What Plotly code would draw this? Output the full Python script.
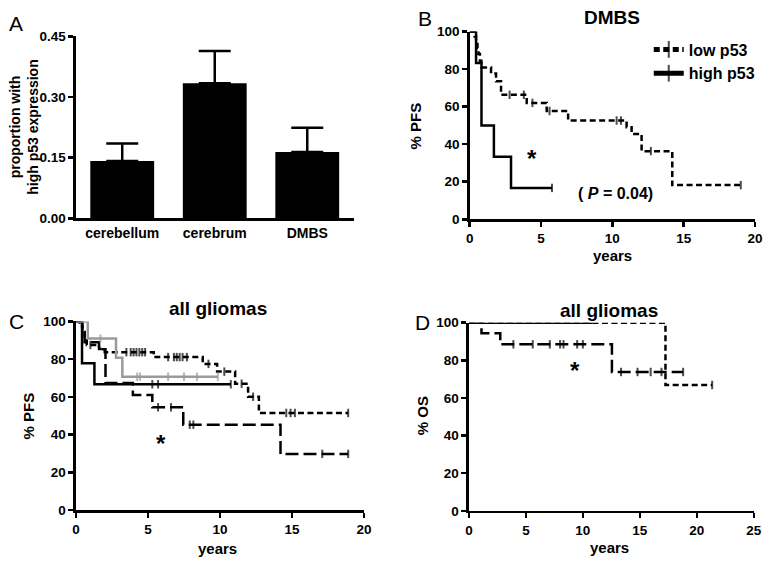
import plotly.graph_objects as go

# page is 774x567; the browser body keeps its default 8px margin,
# so the figure itself is 16px smaller and all positions are offset by 8px.
PAGE_W, PAGE_H = 774, 567
OFF = 8
W, H = PAGE_W - 2 * OFF, PAGE_H - 2 * OFF
FONT = "Liberation Sans, Arial, sans-serif"

# ---------------- Panel A data ----------------
categories = ["cerebellum", "cerebrum", "DMBS"]
proportion_high = [0.142, 0.334, 0.164]
proportion_sem = [0.043, 0.080, 0.060]
a_ticks = [0.0, 0.15, 0.30, 0.45]
a_ticklabels = ["0.00", "0.15", "0.30", "0.45"]

# ---------------- Panel B data (DMBS, PFS) ----------------
b_low_times = [0.35, 0.45, 0.55, 0.62, 0.72, 0.82, 1.5, 1.85, 2.2, 4.0, 5.4, 6.9, 11.0, 11.35, 12.05, 14.2]
b_low_surv = [97.4, 94.8, 91.2, 88.0, 84.5, 80.8, 77.7, 73.5, 66.3, 62.0, 57.7, 52.6, 49.0, 45.4, 36.3, 18.2]
b_low_end = 19.0
b_low_censor = [2.8, 3.8, 4.4, 5.6, 10.3, 10.6, 12.7, 19.0]

b_high_times = [0.45, 0.83, 1.7, 2.9]
b_high_surv = [83.3, 50.0, 33.3, 16.7]
b_high_end = 5.77
b_high_censor = [5.77]

# ---------------- Panel C data (all gliomas, PFS) ----------------
c_short_times = [0.25, 0.45, 0.6, 0.75, 1.6, 2.0, 5.4, 8.8, 9.8, 11.05, 11.95, 12.7]
c_short_surv = [97.5, 95.0, 90.0, 87.5, 85.4, 83.7, 81.1, 77.5, 73.4, 67.0, 60.1, 51.5]
c_short_end = 18.9
c_short_censor = [1.0, 3.5, 3.8, 4.0, 4.2, 4.4, 4.6, 4.8, 6.4, 6.8, 7.0, 7.2, 7.4, 7.7,
                  9.2, 10.3, 11.5, 12.3, 14.6, 14.9, 15.2, 18.9]

c_long_times = [0.45, 0.6, 1.6, 2.05, 3.95, 5.3, 7.45, 14.2]
c_long_surv = [96.3, 88.9, 85.2, 67.4, 61.0, 54.5, 45.3, 29.8]
c_long_end = 18.9
c_long_censor = [5.7, 6.6, 7.9, 8.15, 17.1, 18.9]

c_gray_times = [0.82, 2.78, 3.22]
c_gray_surv = [90.9, 80.8, 70.7]
c_gray_end = 9.85
c_gray_censor = [1.7, 4.25, 4.45, 6.4, 7.5, 8.4, 9.85]

c_solid_times = [0.42, 1.28]
c_solid_surv = [77.8, 66.7]
c_solid_end = 10.75
c_solid_censor = [5.3, 5.7, 10.75]

# ---------------- Panel D data (all gliomas, OS) ----------------
d_short_times = [17.25]
d_short_surv = [66.9]
d_short_end = 21.35
d_short_censor = [21.35]

d_long_times = [1.1, 2.75, 12.55]
d_long_surv = [94.4, 88.5, 73.8]
d_long_end = 18.8
d_long_censor = [3.9, 5.6, 7.1, 8.0, 8.3, 9.5, 10.0, 13.35, 14.8, 15.95, 16.9, 18.8]

d_solid_times = []
d_solid_surv = []
d_solid_end = 10.85
d_solid_censor = []

surv_ticks = [0, 20, 40, 60, 80, 100]


def km_path(times, surv, end, censor, tick=6):
    pts = [(t, 0, s) for t, s in zip(times, surv)] + [(c, 1, None) for c in censor]
    pts.sort(key=lambda p: (p[0], p[1]))
    xs, ys, sz = [0.0], [100.0], [0]
    cur = 100.0
    for t, kind, s in pts:
        if kind == 0:
            cur = s
            xs.append(t); ys.append(cur); sz.append(0)
        else:
            xs.append(t); ys.append(cur); sz.append(tick)
    if xs[-1] < end:
        xs.append(end); ys.append(cur); sz.append(0)
    return xs, ys, sz


def km_trace(times, surv, end, censor, axis, color="black", dash="solid",
             width=2.5, name=None, showlegend=False):
    xs, ys, sz = km_path(times, surv, end, censor)
    return go.Scatter(
        x=xs, y=ys, mode="lines+markers", line=dict(shape="hv", color=color, width=width, dash=dash),
        marker=dict(symbol="line-ns", size=sz, color=color, line=dict(color=color, width=2)),
        xaxis="x" + axis, yaxis="y" + axis, name=name, showlegend=showlegend, hoverinfo="skip",
    )


fig = go.Figure()

# Panel A
fig.add_trace(go.Bar(
    x=categories, y=proportion_high, width=0.69, marker=dict(color="black", line=dict(width=0)),
    error_y=dict(type="data", array=proportion_sem, arrayminus=[0] * len(proportion_sem),
                 symmetric=False, thickness=2.5, width=16, color="black"),
    xaxis="x", yaxis="y", showlegend=False, hoverinfo="skip",
))

SHORT = "6px,3.5px"
LONG = "13px,5px"

# Panel B
fig.add_trace(km_trace(b_low_times, b_low_surv, b_low_end, b_low_censor, "2", dash=SHORT,
                       name="low p53", showlegend=True))
fig.add_trace(km_trace(b_high_times, b_high_surv, b_high_end, b_high_censor, "2",
                       name="high p53", showlegend=True))

# Panel C
fig.add_trace(km_trace(c_long_times, c_long_surv, c_long_end, c_long_censor, "3", dash=LONG))
fig.add_trace(km_trace(c_short_times, c_short_surv, c_short_end, c_short_censor, "3", dash=SHORT))
fig.add_trace(km_trace(c_solid_times, c_solid_surv, c_solid_end, c_solid_censor, "3"))
fig.add_trace(km_trace(c_gray_times, c_gray_surv, c_gray_end, c_gray_censor, "3", color="#9a9a9a"))

# Panel D
fig.add_trace(km_trace(d_short_times, d_short_surv, d_short_end, d_short_censor, "4", dash=SHORT))
fig.add_trace(km_trace(d_long_times, d_long_surv, d_long_end, d_long_censor, "4", dash=LONG))
fig.add_trace(km_trace(d_solid_times, d_solid_surv, d_solid_end, d_solid_censor, "4"))


def px_x(x):
    return (x - OFF) / W


def px_y(y):
    return 1 - (y - OFF) / H


tickfont = dict(family=FONT, size=13.5, color="black", weight="bold")
common = dict(showline=True, linecolor="black", linewidth=2.5, ticks="outside", ticklen=5,
              tickwidth=2.5, tickcolor="black", showgrid=False, zeroline=False,
              tickfont=tickfont, fixedrange=True)

fig.update_layout(
    width=W, height=H, margin=dict(l=0, r=0, t=0, b=0),
    paper_bgcolor="white", plot_bgcolor="white",
    font=dict(family=FONT, color="black"),
    xaxis=dict(common, domain=[px_x(73), px_x(355)], type="category", range=[-0.5, 2.5],
               ticks="", anchor="y", tickfont=dict(tickfont, size=14)),
    yaxis=dict(common, domain=[px_y(217), px_y(30)], range=[0, 0.45], tickvals=a_ticks,
               ticktext=a_ticklabels, anchor="x"),
    xaxis2=dict(common, domain=[px_x(473), px_x(763)], range=[0, 20], tickvals=[0, 5, 10, 15, 20], anchor="y2"),
    yaxis2=dict(common, domain=[px_y(218), px_y(25)], range=[0, 100], tickvals=surv_ticks, anchor="x2"),
    xaxis3=dict(common, domain=[px_x(73), px_x(365.7)], range=[0, 20], tickvals=[0, 5, 10, 15, 20], anchor="y3"),
    yaxis3=dict(common, domain=[px_y(517), px_y(323)], range=[0, 100], tickvals=surv_ticks, anchor="x3"),
    xaxis4=dict(common, domain=[px_x(472.3), px_x(761.7)], range=[0, 25], tickvals=[0, 5, 10, 15, 20, 25], anchor="y4"),
    yaxis4=dict(common, domain=[px_y(517.7), px_y(324.3)], range=[0, 100], tickvals=surv_ticks, anchor="x4"),
    legend=dict(x=px_x(655), y=px_y(26), xanchor="left", yanchor="top",
                font=dict(family=FONT, size=16, color="black", weight="bold"),
                bgcolor="rgba(0,0,0,0)", itemsizing="constant", tracegroupgap=0),
    hovermode=False,
)

BOLD = dict(family=FONT, color="black", weight="bold")
ann = []


def add_text(text, x, y, size, bold=True, angle=0, xref="paper", yref="paper"):
    f = dict(BOLD, size=size) if bold else dict(family=FONT, color="black", size=size)
    ann.append(dict(text=text, x=x, y=y, xref=xref, yref=yref, showarrow=False,
                    font=f, textangle=angle, xanchor="center", yanchor="middle"))


# panel letters
add_text("A", px_x(12), px_y(17), 21, bold=False)
add_text("B", px_x(428), px_y(12), 21, bold=False)
add_text("C", px_x(13), px_y(323), 21, bold=False)
add_text("D", px_x(425), px_y(324), 21, bold=False)

# Panel A y title
add_text("proportion with<br>high p53 expression", px_x(20), px_y(123), 14, angle=-90)

# Panel B texts
add_text("DMBS", px_x(618), px_y(11), 19)
add_text("% PFS", px_x(418), px_y(122), 15, angle=-90)
add_text("years", px_x(618), px_y(255), 15)
add_text("*", 4.4, 32.5, 24, xref="x2", yref="y2")
add_text("( <i>P</i> = 0.04)", 10.2, 13.8, 16, xref="x2", yref="y2")

# Panel C texts
add_text("all gliomas", px_x(217), px_y(310), 19)
add_text("% PFS", px_x(25), px_y(420), 15, angle=-90)
add_text("years", px_x(217), px_y(556), 15)
add_text("*", 5.9, 35.5, 24, xref="x3", yref="y3")

# Panel D texts
add_text("all gliomas", px_x(615), px_y(312), 19)
add_text("% OS", px_x(425), px_y(420), 15, angle=-90)
add_text("years", px_x(615), px_y(555), 15)
add_text("*", 9.3, 74.5, 24, xref="x4", yref="y4")

fig.update_layout(annotations=ann)

fig.write_html("out.html", config={"displayModeBar": False, "staticPlot": True})
